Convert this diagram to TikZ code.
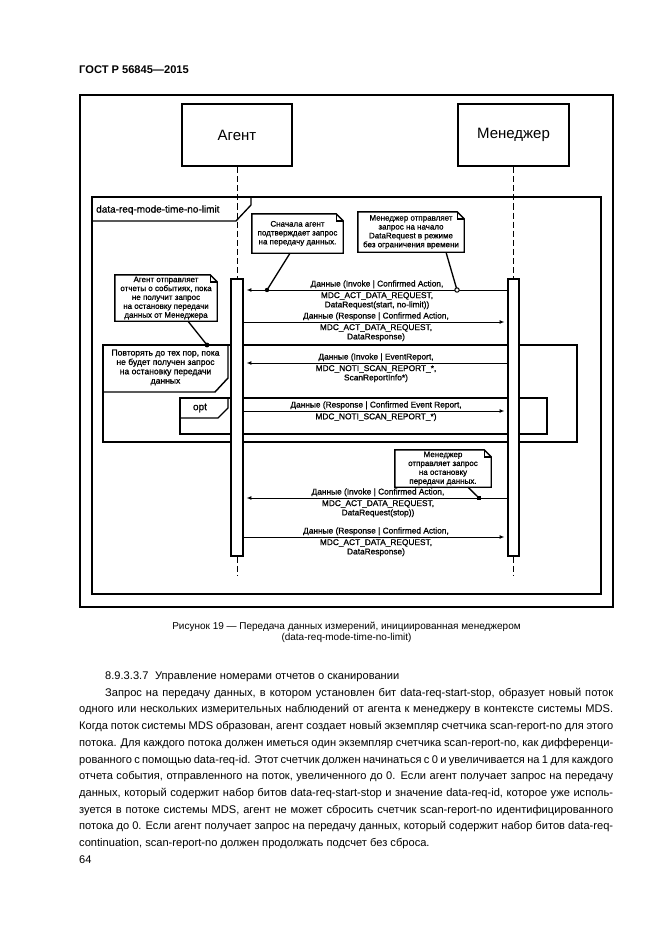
\documentclass[tikz,border=0pt]{standalone}
\usepackage{fontspec}
\setmainfont{Liberation Sans}
\newfontfamily\dgfont[FakeBold=0.9]{Liberation Sans}
\usetikzlibrary{arrows.meta,calc}
\newcommand{\pxu}{0.9006pt}
\newcommand{\dogear}[1]{%
  \draw[notebd] (#1.north west) -- ($(#1.north east)+(-7,0)$) -- ($(#1.north east)+(0,7)$) -- (#1.south east) -- (#1.south west) -- cycle;
  \draw[notebd] ($(#1.north east)+(-7,0)$) -- ++(0,7) -- ++(7,0);}
\begin{document}
\begin{tikzpicture}[x=0.9006pt,y=-0.9006pt,
  objbox/.style={draw,line width=1.8pt,fill=white,inner sep=0,font=\fontsize{13.5}{16}\selectfont},
  actbar/.style={draw,line width=1.3pt,fill=white,inner sep=0},
  lifeln/.style={line width=0.9pt,dash pattern=on 5.5pt off 2.7pt},
  msgln/.style={line width=0.9pt},
  tipA/.style={-{Latex[length=4.5pt,width=3.6pt]},shorten >=2.5pt},
  lbl/.style={inner sep=0,align=center,font=\dgfont\fontsize{7.5}{8.4}\selectfont},
  notetxt/.style={inner sep=0,align=center,font=\dgfont\fontsize{7.2}{8}\selectfont},
  looptxt/.style={inner sep=0,align=center,font=\dgfont\fontsize{7.7}{8.4}\selectfont},
  notebd/.style={line width=1.3pt,line join=miter},
  conn/.style={line width=1.2pt},
  bodyln/.style={anchor=base west,inner sep=0,font=\fontsize{10}{12}\selectfont},
  framelbl/.style={inner sep=0,font=\dgfont\fontsize{9}{10}\selectfont}
]
\fill[white] (0,0) rectangle (661,935);
\useasboundingbox (0,0) rectangle (661,935);

% header
\node[anchor=base west,inner sep=0,font=\bfseries\fontsize{10}{12}\selectfont] (hdr) at (79,73.5) {ГОСТ Р 56845—2015};

% outer frame
\draw[line width=1.1pt] (80,95) rectangle (613,607);

% sd frame
\draw[line width=1.4pt] (92,197) rectangle (601,594);
\draw[line width=1.2pt] (251,197) -- (251,205) -- (236,221) -- (92,221);
\node[framelbl,anchor=west] (sdlbl) at (96,210) {data-req-mode-time-no-limit};

% loop frame
\draw[line width=1.8pt] (103,345) rectangle (577,442);
\draw[line width=1.3pt] (228,345) -- (228,378) -- (215,392) -- (103,392);
\node[looptxt] (looplbl) at (165.5,367.5) {Повторять до тех пор, пока\\не будет получен запрос\\на остановку передачи\\данных};

% opt frame
\draw[line width=1.4pt] (180,398) rectangle (547,434);
\draw[line width=1.2pt] (228,398) -- (228,408) -- (218,418) -- (180,418);
\node[framelbl] (optlbl) at (200,408) {opt};

% objects
\node[objbox,minimum width=110*\pxu,minimum height=62*\pxu] (ag) at (237,135) {Агент};
\node[objbox,minimum width=111*\pxu,minimum height=62*\pxu] (mg) at (513.5,135) {Менеджер};

% message levels
\coordinate (m1) at (0,290);
\coordinate (m2) at (0,322);
\coordinate (m3) at (0,363);
\coordinate (m4) at (0,411);
\coordinate (m5) at (0,498);
\coordinate (m6) at (0,537);
\coordinate (yend) at (0,575);

% activation bars
\node[actbar,minimum width=12*\pxu,minimum height=277*\pxu] (ab) at (237,417.5) {};
\node[actbar,minimum width=11*\pxu,minimum height=277*\pxu] (mb) at (513.5,417.5) {};

% lifelines
\draw[lifeln] (ag.south) -- (ab.north);
\draw[lifeln] (ab.south) -- (ab.south |- yend);
\draw[lifeln] (mg.south) -- (mb.north);
\draw[lifeln] (mb.south) -- (mb.south |- yend);

% messages
\draw[msgln,tipA] (mb.west |- m1) -- (ab.east |- m1);
\node[lbl,anchor=south] (l1a) at (377,288.5) {Данные (Invoke | Confirmed Action,};
\node[lbl,anchor=north] (l1b) at (377,292) {MDC\_ACT\_DATA\_REQUEST,\\DataRequest(start, no-limit))};

\draw[msgln,tipA] (ab.east |- m2) -- (mb.west |- m2);
\node[lbl,anchor=south] (l2a) at (376,320.5) {Данные (Response | Confirmed Action,};
\node[lbl,anchor=north] (l2b) at (376,324) {MDC\_ACT\_DATA\_REQUEST,\\DataResponse)};

\draw[msgln,tipA] (mb.west |- m3) -- (ab.east |- m3);
\node[lbl,anchor=south] (l3a) at (376,361.5) {Данные (Invoke | EventReport,};
\node[lbl,anchor=north] (l3b) at (376,365) {MDC\_NOTI\_SCAN\_REPORT\_*,\\ScanReportInfo*)};

\draw[msgln,tipA] (ab.east |- m4) -- (mb.west |- m4);
\node[lbl,anchor=south] (l4a) at (376,409.5) {Данные (Response | Confirmed Event Report,};
\node[lbl,anchor=north] (l4b) at (376,413) {MDC\_NOTI\_SCAN\_REPORT\_*)};

\draw[msgln,tipA] (mb.west |- m5) -- (ab.east |- m5);
\node[lbl,anchor=south] (l5a) at (378,496.5) {Данные (Invoke | Confirmed Action,};
\node[lbl,anchor=north] (l5b) at (378,500) {MDC\_ACT\_DATA\_REQUEST,\\DataRequest(stop))};

\draw[msgln,tipA] (ab.east |- m6) -- (mb.west |- m6);
\node[lbl,anchor=south] (l6a) at (376,535.5) {Данные (Response | Confirmed Action,};
\node[lbl,anchor=north] (l6b) at (376,539) {MDC\_ACT\_DATA\_REQUEST,\\DataResponse)};

% notes
\node[notetxt,minimum width=91*\pxu,minimum height=39*\pxu] (n1) at (297.5,233.5) {Сначала агент\\подтверждает запрос\\на передачу данных.};
\dogear{n1}
\node[notetxt,minimum width=106*\pxu,minimum height=40*\pxu] (n2) at (411,232) {Менеджер отправляет\\запрос на начало\\DataRequest в режиме\\без ограничения времени};
\dogear{n2}
\node[notetxt,minimum width=102*\pxu,minimum height=46*\pxu] (n3) at (166,298) {Агент отправляет\\отчеты о событиях, пока\\не получит запрос\\на остановку передачи\\данных от Менеджера};
\dogear{n3}
\node[notetxt,minimum width=96*\pxu,minimum height=37*\pxu] (n4) at (443,468.5) {Менеджер\\отправляет запрос\\на остановку\\передачи данных.};
\dogear{n4}

\coordinate (d1) at (267,290);
\coordinate (d2) at (457,290);
\coordinate (d3) at (207,345);
\coordinate (d4) at (479,498);
\draw[conn] ($(n1.south)+(-7.5,0)$) -- (d1);
\fill (d1) circle (2.2);
\draw[conn] ($(n2.south)+(35,0)$) -- (d2);
\draw[line width=0.9pt,fill=white] (d2) circle (2.2);
\draw[conn] ($(n3.south)+(22,0)$) -- (d3);
\fill (d3) circle (2.4);
\draw[conn] ($(n4.south)+(25,0)$) -- (d4);
\fill (d4) ++(-2.2,-2.2) rectangle ++(4.4,4.4);

% caption
\node[inner sep=0,align=center,font=\fontsize{9}{10}\selectfont] (cap) at (346.5,632.5) {Рисунок 19 — Передача данных измерений, инициированная менеджером\\(data-req-mode-time-no-limit)};

% body text
\node[bodyln] (t0) at (105,679.5) {8.9.3.3.7\hspace{0.6em}Управление номерами отчетов о сканировании};
\node[bodyln] (t1) at (105,696) {\makebox[508\dimexpr\pxu\relax][s]{Запрос на передачу данных, в котором установлен бит data-req-start-stop, образует новый поток}};
\node[bodyln] (t2) at (79,712.5) {\makebox[534\dimexpr\pxu\relax][s]{одного или нескольких измерительных наблюдений от агента к менеджеру в контексте системы MDS.}};
\node[bodyln] (t3) at (79,729.5) {\makebox[534\dimexpr\pxu\relax][s]{Когда поток системы MDS образован, агент создает новый экземпляр счетчика scan-report-no для этого}};
\node[bodyln] (t4) at (79,746.5) {\makebox[534\dimexpr\pxu\relax][s]{потока. Для каждого потока должен иметься один экземпляр счетчика scan-report-no, как дифференци-}};
\node[bodyln] (t5) at (79,763.5) {\makebox[534\dimexpr\pxu\relax][s]{рованного с помощью data-req-id. Этот счетчик должен начинаться с 0 и увеличивается на 1 для каждого}};
\node[bodyln] (t6) at (79,779.5) {\makebox[534\dimexpr\pxu\relax][s]{отчета события, отправленного на поток, увеличенного до 0. Если агент получает запрос на передачу}};
\node[bodyln] (t7) at (79,796.5) {\makebox[534\dimexpr\pxu\relax][s]{данных, который содержит набор битов data-req-start-stop и значение data-req-id, которое уже исполь-}};
\node[bodyln] (t8) at (79,813.5) {\makebox[534\dimexpr\pxu\relax][s]{зуется в потоке системы MDS, агент не может сбросить счетчик scan-report-no идентифицированного}};
\node[bodyln] (t9) at (79,829.5) {\makebox[534\dimexpr\pxu\relax][s]{потока до 0. Если агент получает запрос на передачу данных, который содержит набор битов data-req-}};
\node[bodyln] (t10) at (79,846.5) {continuation, scan-report-no должен продолжать подсчет без сброса.};
\node[bodyln] (t11) at (79,863.5) {64};
\end{tikzpicture}
\end{document}
